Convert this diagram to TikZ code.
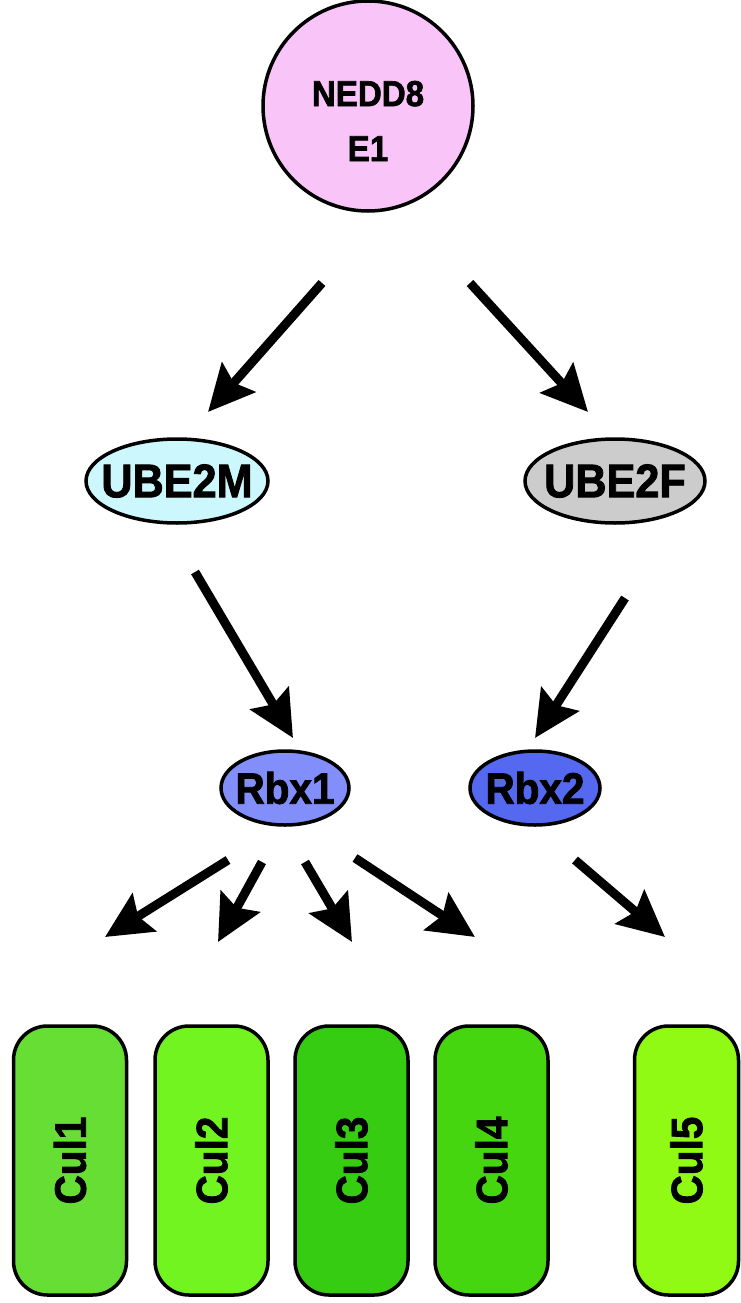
\documentclass[tikz,border=0pt]{standalone}
\usepackage{fontspec}
\setmainfont{Liberation Sans}
\newfontfamily\labfont[FakeStretch=0.92,BoldFeatures={FakeBold=1.8}]{Liberation Sans}
\usetikzlibrary{arrows.meta,shapes.geometric}
\definecolor{pinkc}{RGB}{249,196,248}
\definecolor{cyanc}{RGB}{204,247,252}
\definecolor{greyc}{RGB}{204,204,204}
\definecolor{rbxa}{RGB}{130,142,250}
\definecolor{rbxb}{RGB}{84,104,240}
\definecolor{cula}{RGB}{102,222,52}
\definecolor{culb}{RGB}{114,244,32}
\definecolor{culc}{RGB}{54,204,18}
\definecolor{culd}{RGB}{70,214,16}
\definecolor{cule}{RGB}{144,250,20}
\tikzset{
  ovalnode/.style={ellipse,draw=black,line width=3.5pt,inner sep=0pt},
  ubetext/.style={inner sep=0pt,font=\labfont\fontsize{47}{52}\selectfont\bfseries},
  rbxtext/.style={inner sep=0pt,font=\labfont\fontsize{44}{48}\selectfont\bfseries},
  culbox/.style={rectangle,rounded corners=34pt,draw=black,line width=3.5pt,
    minimum width=113pt,minimum height=269pt,inner sep=0pt},
  cullabel/.style={rotate=90,font=\labfont\fontsize{44}{48}\selectfont\bfseries},
  bigarrow/.style={line width=9pt,-{Stealth[length=46pt,width=44pt,inset=7pt]}}
}
\begin{document}
\begin{tikzpicture}[x=1pt,y=-1pt]
\useasboundingbox (0,0) rectangle (741,1303);
\fill[white] (0,0) rectangle (741,1303);
% top circle
\node[circle,draw=black,line width=3.5pt,fill=pinkc,minimum size=210pt,inner sep=0pt] (e1) at (368,106) {};
\node[align=center,font=\labfont\fontsize{36}{55}\selectfont\bfseries] (e1t) at (368,121) {NEDD8\\E1};
% E2 ellipses
\node[ovalnode,fill=cyanc,minimum width=182pt,minimum height=84pt] (m) at (177,481) {};
\node[ubetext] (mt) at (m) {UBE2M};
\node[ovalnode,fill=greyc,minimum width=180pt,minimum height=84pt] (f) at (615,481) {};
\node[ubetext] (ft) at (f) {UBE2F};
% Rbx
\node[ovalnode,fill=rbxa,minimum width=128pt,minimum height=74pt] (r1) at (285,788) {};
\node[rbxtext] (r1t) at (r1) {Rbx1};
\node[ovalnode,fill=rbxb,minimum width=130pt,minimum height=74pt] (r2) at (535,788) {};
\node[rbxtext] (r2t) at (r2) {Rbx2};
% Cullins
\node[culbox,fill=cula] (c1) at (70,1160.5) {};
\node[culbox,fill=culb] (c2) at (211.5,1160.5) {};
\node[culbox,fill=culc] (c3) at (351.5,1160.5) {};
\node[culbox,fill=culd] (c4) at (491.5,1160.5) {};
\node[culbox,fill=cule,minimum width=104pt] (c5) at (686.5,1160.5) {};
\node[cullabel] (l1) at (c1) {Cul1};
\node[cullabel] (l2) at (c2) {Cul2};
\node[cullabel] (l3) at (c3) {Cul3};
\node[cullabel] (l4) at (c4) {Cul4};
\node[cullabel] (l5) at (c5) {Cul5};
% arrow end points
\coordinate (a1s) at (322,283); \coordinate (a1e) at (208,412);
\coordinate (a2s) at (470,283); \coordinate (a2e) at (588,412);
\coordinate (a3s) at (195,572); \coordinate (a3e) at (293,738);
\coordinate (a4s) at (625,598); \coordinate (a4e) at (535,738);
\coordinate (b1s) at (228,860); \coordinate (b1e) at (105,937);
\coordinate (b2s) at (262,862); \coordinate (b2e) at (218,942);
\coordinate (b3s) at (305,862); \coordinate (b3e) at (352,942);
\coordinate (b4s) at (355,858); \coordinate (b4e) at (475,937);
\coordinate (b5s) at (575,860); \coordinate (b5e) at (665,937);
\draw[bigarrow] (a1s) -- (a1e);
\draw[bigarrow] (a2s) -- (a2e);
\draw[bigarrow] (a3s) -- (a3e);
\draw[bigarrow] (a4s) -- (a4e);
\draw[bigarrow] (b1s) -- (b1e);
\draw[bigarrow] (b2s) -- (b2e);
\draw[bigarrow] (b3s) -- (b3e);
\draw[bigarrow] (b4s) -- (b4e);
\draw[bigarrow] (b5s) -- (b5e);
\end{tikzpicture}
\end{document}
